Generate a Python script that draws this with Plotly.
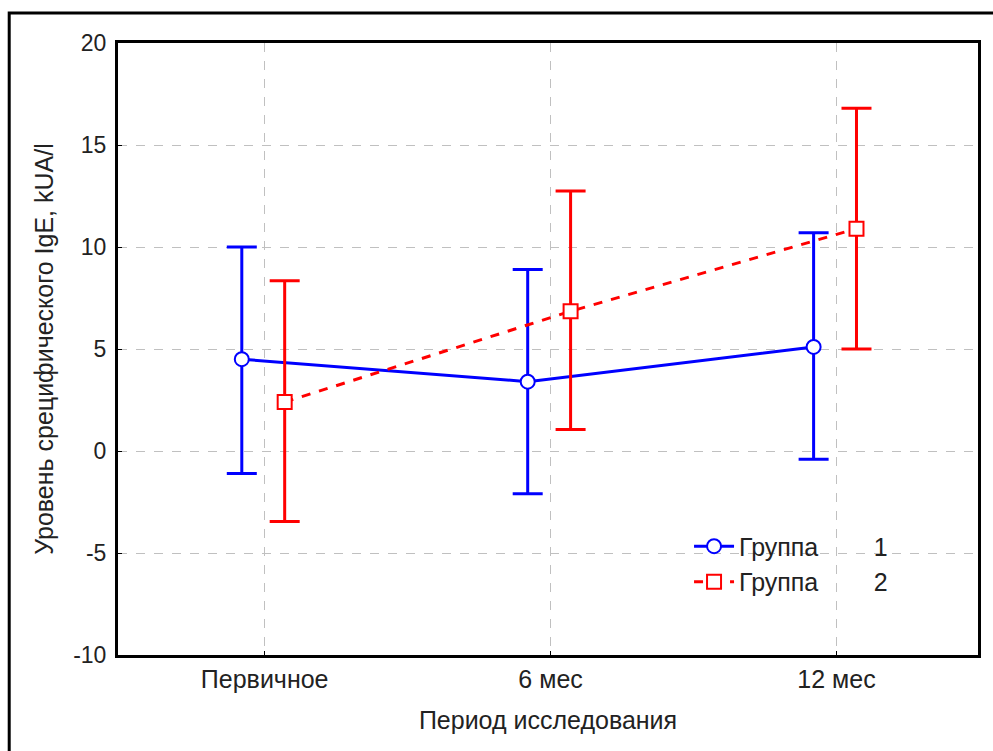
import numpy as np
import plotly.graph_objects as go

categories = ["Первичное", "6 мес", "12 мес"]
group1_mean = [4.5, 3.4, 5.1]
group1_upper = [10.0, 8.9, 10.7]
group1_lower = [-1.1, -2.1, -0.4]
group2_mean = [2.4, 6.85, 10.9]
group2_upper = [8.35, 12.75, 16.8]
group2_lower = [-3.45, 1.05, 5.0]
y_ticks = [-10, -5, 0, 5, 10, 15, 20]
y_ticktext = ["-10", "-5", "0", "5", "10", "15", "20"]

FONT = "Liberation Sans, Arial, sans-serif"
base = np.arange(len(categories))
off1, off2 = -0.08, 0.07

def err(mean, up, lo):
    m = np.array(mean)
    return dict(type="data", symmetric=False,
                array=list(np.array(up) - m),
                arrayminus=list(m - np.array(lo)))

fig = go.Figure()
fig.add_trace(go.Scatter(
    x=base + off1, y=group1_mean, mode="lines+markers",
    name="Группа" + "\u00a0" * 8 + "1",
    line=dict(color="#0000ff", width=3),
    marker=dict(symbol="circle", size=14, color="white", line=dict(color="#0000ff", width=2)),
    error_y=dict(**err(group1_mean, group1_upper, group1_lower), color="#0000ff", thickness=3, width=15),
))
fig.add_trace(go.Scatter(
    x=base + off2, y=group2_mean, mode="lines+markers",
    name="Группа" + "\u00a0" * 8 + "2",
    line=dict(color="#ff0000", width=3, dash="dash"),
    marker=dict(symbol="square", size=14, color="white", line=dict(color="#ff0000", width=2)),
    error_y=dict(**err(group2_mean, group2_upper, group2_lower), color="#ff0000", thickness=3, width=15),
))

fig.update_layout(
    width=993, height=751,
    margin=dict(l=118, r=13, t=43, b=96),
    paper_bgcolor="white", plot_bgcolor="white",
    font=dict(family=FONT, size=20, color="#222222"),
    showlegend=True,
    legend=dict(x=0.664, y=0.215, xanchor="left", yanchor="top",
                bgcolor="rgba(0,0,0,0)", font=dict(size=25), tracegroupgap=0,
                itemwidth=40),
    xaxis=dict(range=[-0.513, 2.495], tickvals=list(base), ticktext=categories,
               tickfont=dict(size=25),
               showgrid=True, gridcolor="#c0c0c0", griddash="dash", gridwidth=1,
               showline=True, linecolor="black", linewidth=3, mirror=True,
               ticks="inside", ticklen=4, tickcolor="black", zeroline=False,
               title=dict(text="Период исследования", standoff=20, font=dict(size=25))),
    yaxis=dict(range=[-10, 20], tickvals=y_ticks, ticktext=y_ticktext,
               tickfont=dict(size=23), ticklabelstandoff=4,
               showgrid=True, gridcolor="#c0c0c0", griddash="dash", gridwidth=1,
               showline=True, linecolor="black", linewidth=3, mirror=True,
               ticks="inside", ticklen=4, tickcolor="black", zeroline=False,
               title=dict(text="Уровень срецифического IgE, kUA/l", standoff=13, font=dict(size=25))),
    shapes=[dict(type="rect", xref="paper", yref="paper", x0=-0.1265, x1=1.05, y0=-0.3, y1=1.049,
                 line=dict(color="black", width=3), layer="below")],
)

fig.write_html("out.html")
